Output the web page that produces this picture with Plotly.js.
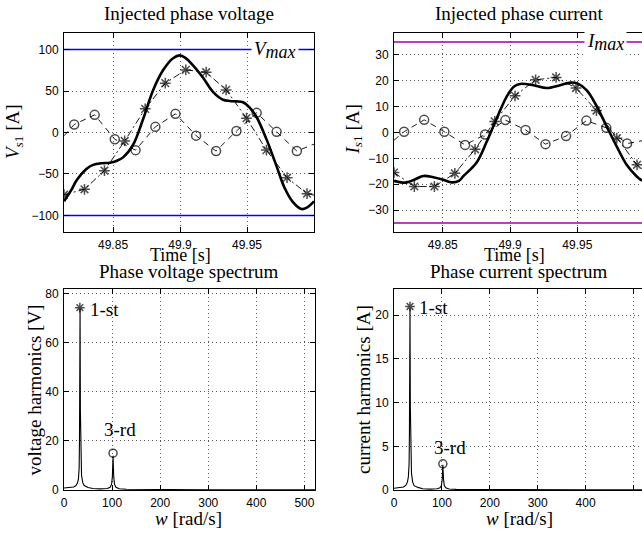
<!DOCTYPE html>
<html><head><meta charset="utf-8">
<script src="https://cdn.plot.ly/plotly-3.0.1.min.js"></script>
<style>html,body{margin:0;padding:0;background:#fff}#chart{width:642px;height:535px}</style>
</head><body><div id="chart"></div>
<script>
// ---------- Injected phase voltage ----------
const vTime = [49.8134,49.8190,49.8227,49.8301,49.8351,49.8420,49.8475,49.8530,49.8575,49.8649,49.8724,49.8799,49.8873,49.8948,49.8998,49.9040,49.9097,49.9172,49.9246,49.9321,49.9371,49.9421,49.9470,49.9520,49.9570,49.9645,49.9719,49.9781,49.9843,49.9906,49.9943,50.0000];
const vTotal = [-83,-69,-58,-44,-39,-37,-36.5,-34,-30,-15,16,51,75,89.6,93,90,81,66,49,39.5,38,37.5,36.5,30,19,-8,-40,-67,-84,-92.3,-91,-83];
const vStarTime = [49.8134,49.8287,49.8436,49.8587,49.8740,49.8890,49.9043,49.9195,49.9344,49.9496,49.9645,49.9799,49.9948,50.0000];
const vStar = [-75,-68.5,-46,-10.2,28.5,59.5,75.5,72.7,51.4,17.3,-21.2,-54.5,-73.8,-75.5];
const vCircTime = [49.8134,49.8210,49.8363,49.8513,49.8668,49.8816,49.8966,49.9120,49.9269,49.9421,49.9572,49.9721,49.9872,50.0000];
const vCirc = [-4,9.7,21.3,-8.2,-21.3,6.8,22.5,-3.8,-22.4,1.8,23.7,0.8,-22.4,-14];
const vLimitTime = [49.8134,50.0000];
const vMax = 100;

// ---------- Injected phase current ----------
const iTime = [49.8138,49.8190,49.8233,49.8300,49.8356,49.8430,49.8505,49.8567,49.8620,49.8653,49.8753,49.8827,49.8901,49.8976,49.9030,49.9074,49.9173,49.9272,49.9371,49.9450,49.9500,49.9570,49.9644,49.9718,49.9792,49.9866,49.9941,49.9980];
const iTotal = [-18.7,-19.3,-19.3,-18,-16.8,-17.3,-18.3,-19.3,-18.7,-16.9,-11.5,-3.5,5.5,14,17.8,18.8,18.3,17.2,18.3,19.3,19,16.3,10.1,2.3,-5.4,-12.5,-17,-18.6];
const iStarTime = [49.8138,49.8289,49.8438,49.8590,49.8740,49.8886,49.9037,49.9190,49.9342,49.9490,49.9642,49.9793,49.9943,49.9980];
const iStar = [-15.5,-20.9,-20.9,-15.8,-6.5,4.3,14.2,20.4,21.3,17.2,8.5,-2.2,-12.5,-14];
const iCircTime = [49.8138,49.8213,49.8362,49.8512,49.8666,49.8814,49.8965,49.9115,49.9263,49.9416,49.9567,49.9715,49.9869,49.9980];
const iCirc = [-3,0.3,4.9,0.3,-4.8,-0.8,4.8,1.0,-4.5,-1.4,4.6,1.8,-4.3,-3.2];
const iLimitTime = [49.8138,49.9980];
const iMax = 35;

// ---------- Spectra ----------
const wV = [0,10,20,25,28,30,31.5,32.2,32.8,33.4,34.1,35,36.5,39,42,50,60,75,90,96,99,100.6,101.4,102,102.6,103.4,105,108,115,130,200,300,400,522];
const vHarm = [0.8,0.9,1.2,1.8,2.8,4.5,9,20,45,74,32,13,6,3,1.8,1,0.6,0.45,0.6,1.1,2.4,5.5,10,14,10,5.5,2.4,1.1,0.5,0.3,0.15,0.1,0.07,0.05];
const vHarmMarkW = [33.0,102];
const vHarmMark = [74.4,15];

const wI = [0,10,20,25,28,30,31.5,32.2,32.8,33.4,34.1,35,36.5,39,42,50,60,75,90,96,99,100.6,101.4,102,102.6,103.4,105,108,115,130,200,300,400,522];
const iHarm = [0.2,0.25,0.35,0.55,0.9,1.5,3,6.5,13,20.8,9.5,4,1.9,0.9,0.5,0.3,0.15,0.1,0.14,0.25,0.5,1.2,2.1,2.9,2.1,1.2,0.5,0.25,0.12,0.07,0.04,0.03,0.02,0.02];
const iHarmMarkW = [33.4,102];
const iHarmMark = [21,3.0];

const xTicksTime = [49.85,49.9,49.95];
const xTickTextTime = ['49.85','49.9','49.95'];
const vTicks = [-100,-50,0,50,100];
const iTicks = [-30,-20,-10,0,10,20,30];
const wTicks = [0,100,200,300,400,500];
const vHarmTicks = [0,20,40,60,80];
const iHarmTicks = [0,5,10,15,20];

// ---------- Styling ----------
const serif = "'Liberation Serif', 'Times New Roman', serif";
const sans = "'Liberation Sans', Arial, Helvetica, sans-serif";
const W = 642, H = 535;
const px = v => v / W;
const py = v => 1 - v / H;

function ax(extra){
  return Object.assign({
    showline:true, linecolor:'#000', linewidth:1, mirror:'ticks',
    ticks:'inside', ticklen:5, tickcolor:'#000', tickwidth:1,
    showgrid:true, gridcolor:'rgba(0,0,0,0.65)', griddash:'1px,3px', gridwidth:1,
    zeroline:false, tickfont:{family:sans, size:12, color:'#000'},
    fixedrange:true, automargin:false, ticklabelstandoff:2
  }, extra);
}

const blk = '#000';
const mk = (sym, sizes) => ({symbol:sym, size:sizes, color:blk, line:{width:1.5, color:blk}});
const traces = [
  // top-left
  {x:[vLimitTime[0],vLimitTime[1],null,vLimitTime[0],vLimitTime[1]], y:[vMax,vMax,null,-vMax,-vMax], xaxis:'x', yaxis:'y', mode:'lines', line:{color:'#0000ff', width:1.5}, hoverinfo:'skip'},
  {x:vCircTime, y:vCirc, xaxis:'x', yaxis:'y', mode:'lines+markers', line:{color:blk, width:0.9, dash:'6px,5px'},
    marker:mk('circle-open', vCircTime.map((t,i)=> (i===0||i===vCircTime.length-1)?0:9))},
  {x:vStarTime, y:vStar, xaxis:'x', yaxis:'y', mode:'lines+markers', line:{color:blk, width:0.9, dash:'7px,3px,2px,3px'},
    marker:mk('asterisk-open', vStarTime.map((t,i)=> (i===vStarTime.length-1)?0:9))},
  {x:vTime, y:vTotal, xaxis:'x', yaxis:'y', mode:'lines', line:{color:blk, width:2.6, shape:'spline', smoothing:1}},
  // top-right
  {x:[iLimitTime[0],iLimitTime[1],null,iLimitTime[0],iLimitTime[1]], y:[iMax,iMax,null,-iMax,-iMax], xaxis:'x2', yaxis:'y2', mode:'lines', line:{color:'#a000a0', width:1.5}, hoverinfo:'skip'},
  {x:iCircTime, y:iCirc, xaxis:'x2', yaxis:'y2', mode:'lines+markers', line:{color:blk, width:0.9, dash:'6px,5px'},
    marker:mk('circle-open', iCircTime.map((t,i)=> (i===0||i===iCircTime.length-1)?0:9))},
  {x:iStarTime, y:iStar, xaxis:'x2', yaxis:'y2', mode:'lines+markers', line:{color:blk, width:0.9, dash:'7px,3px,2px,3px'},
    marker:mk('asterisk-open', iStarTime.map((t,i)=> (i===iStarTime.length-1)?0:9))},
  {x:iTime, y:iTotal, xaxis:'x2', yaxis:'y2', mode:'lines', line:{color:blk, width:2.6, shape:'spline', smoothing:1}},
  // bottom-left
  {x:wV, y:vHarm, xaxis:'x3', yaxis:'y3', mode:'lines', line:{color:blk, width:1.1}},
  {x:vHarmMarkW, y:vHarmMark, xaxis:'x3', yaxis:'y3', mode:'markers', marker:mk(['asterisk-open','circle-open'], [8,8])},
  // bottom-right
  {x:wI, y:iHarm, xaxis:'x4', yaxis:'y4', mode:'lines', line:{color:blk, width:1.1}},
  {x:iHarmMarkW, y:iHarmMark, xaxis:'x4', yaxis:'y4', mode:'markers', marker:mk(['asterisk-open','circle-open'], [8,8])}
];

const topDom = [py(232), py(33)];
const botDom = [py(490), py(289)];

const tfont = {family:serif, size:19, color:'#000'};
function ann(text, x, y, extra){
  return Object.assign({text:text, x:x, y:y, xref:'paper', yref:'paper', showarrow:false, font:tfont, xanchor:'center', yanchor:'middle'}, extra||{});
}
function dataAnn(text, x, y, xr, yr, extra){
  return Object.assign({text:text, x:x, y:y, xref:xr, yref:yr, showarrow:false, font:tfont, xanchor:'center', yanchor:'middle'}, extra||{});
}
const maxLabel = (sym) => '<i>' + sym + '</i><span style="font-size:18px;baseline-shift:-3px"><i>max</i></span>';

const layout = {
  width:W, height:H, margin:{l:0, r:0, t:0, b:0},
  paper_bgcolor:'#fff', plot_bgcolor:'#fff', showlegend:false,
  xaxis: ax({domain:[px(64), px(314)], anchor:'y', range:[49.8134, 50.0], tickvals:xTicksTime, ticktext:xTickTextTime}),
  yaxis: ax({domain:topDom, anchor:'x', range:[-120, 120], tickvals:vTicks}),
  xaxis2: ax({domain:[px(394), 1], anchor:'y2', range:[49.8138, 49.998], tickvals:xTicksTime, ticktext:xTickTextTime}),
  yaxis2: ax({domain:topDom, anchor:'x2', range:[-38.5, 38.5], tickvals:iTicks, mirror:false}),
  xaxis3: ax({domain:[px(64), px(315)], anchor:'y3', range:[0, 522], tickvals:wTicks}),
  yaxis3: ax({domain:botDom, anchor:'x3', range:[0, 82], tickvals:vHarmTicks}),
  xaxis4: ax({domain:[px(394), 1], anchor:'y4', range:[0, 517.7], tickvals:wTicks}),
  yaxis4: ax({domain:botDom, anchor:'x4', range:[0, 23], tickvals:iHarmTicks, mirror:false}),
  annotations: [
    ann('Injected phase voltage', px(189), py(14)),
    ann('Injected phase current', px(519), py(14)),
    ann('Phase voltage spectrum', px(189), py(271)),
    ann('Phase current spectrum', px(518), py(271)),
    ann('Time [s]', px(181), py(255), {font:{family:serif, size:18, color:'#000'}}),
    ann('Time [s]', px(514), py(255), {font:{family:serif, size:18, color:'#000'}}),
    ann('<i>w</i> [rad/s]', px(189), py(518)),
    ann('<i>w</i> [rad/s]', px(519), py(518)),
    ann('<i>V</i><sub><i>s</i>1</sub> [A]', px(14), py(132), {textangle:-90}),
    ann('<i>I</i><sub><i>s</i>1</sub> [A]', px(353.5), py(130), {textangle:-90}),
    ann('voltage harmonics [V]', px(33.5), py(390), {textangle:-90}),
    ann('current harmonics [A]', px(363), py(390), {textangle:-90}),
    dataAnn(maxLabel('V'), 49.9707, vMax, 'x', 'y', {bgcolor:'#fff', borderpad:2}),
    dataAnn(maxLabel('I'), 49.9706, iMax, 'x2', 'y2', {bgcolor:'#fff', borderpad:2}),
    dataAnn('1-st', 49.4, 73.5, 'x3', 'y3', {xanchor:'left'}),
    dataAnn('3-rd', 117, 24.5, 'x3', 'y3'),
    dataAnn('1-st', 47.4, 20.9, 'x4', 'y4', {xanchor:'left'}),
    dataAnn('3-rd', 117, 4.83, 'x4', 'y4')
  ]
};

Plotly.newPlot('chart', traces, layout, {staticPlot:true, displayModeBar:false});
</script></body></html>
